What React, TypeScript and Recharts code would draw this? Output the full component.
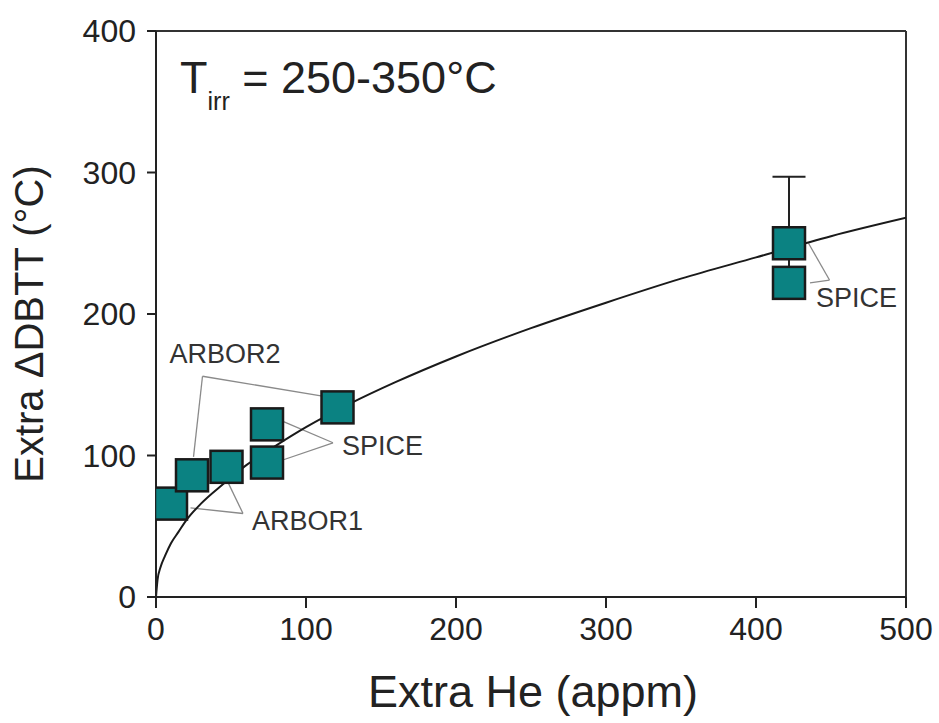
import { ComposedChart, XAxis, YAxis, Line, Scatter, ErrorBar, ReferenceLine, ReferenceDot, Label } from "recharts";

// measured points (Extra He in appm, Extra ΔDBTT in °C)
const heValues = [10, 24, 47, 74, 74, 121, 422, 422];
const dbttValues = [66, 86, 92, 95, 122, 134, 250, 222];

// error bar on the upper SPICE point at 422 appm
const errHe = [422];
const errDbtt = [250];
const errLow = [17];
const errHigh = [47];

// fitted trend
const fitHe = [0, 1, 3, 6, 10, 15, 20, 30, 45, 60, 80, 100, 130, 160, 200, 250, 300, 350, 400, 450, 500];
const fitDbtt = [0, 12, 21, 29, 38, 46, 54, 66, 80, 93, 107, 120, 137, 152, 170, 190, 208, 225, 240, 255, 268];

const xTicks = [0, 100, 200, 300, 400, 500];
const yTicks = [0, 100, 200, 300, 400];

// annotations
const labelNames = ["ARBOR2", "SPICE", "ARBOR1", "SPICE"];
const labelHe = [46, 151, 101, 467];
const labelDbtt = [172, 107, 54, 212];

const leaderFromHe = [31, 31, 118, 118, 58, 58, 449, 449];
const leaderFromDbtt = [156, 156, 109, 109, 59, 59, 224, 224];
const leaderToHe = [25, 111, 85, 85, 48, 23, 435, 436];
const leaderToDbtt = [99, 142, 124, 97, 81, 63, 250, 222];

const points = heValues.map((x, i) => ({ x, y: dbttValues[i] }));
const errPoints = errHe.map((x, i) => ({ x, y: errDbtt[i], err: [errLow[i], errHigh[i]] }));
const fitData = fitHe.map((x, i) => ({ x, y: fitDbtt[i] }));

const FONT = "'Liberation Sans', Arial, sans-serif";
const TEAL = "#0b8282";

const Square = (props: any) => {
    const { cx, cy } = props;
    if (cx == null || cy == null) return null;
    const s = 32;
    return <rect x={cx - s / 2} y={cy - s / 2} width={s} height={s} fill={TEAL} stroke="#1a1a1a" strokeWidth={2.5} />;
};

const Hidden = () => <g />;

const XTitle = (props: any) => {
    const vb = props.viewBox;
    return (
        <text x={vb.x + vb.width / 2 + 2} y={vb.y + 110} textAnchor="middle" fontSize={45} fontFamily={FONT} fill="#222">
            Extra He (appm)
        </text>
    );
};

const YTitle = (props: any) => {
    const vb = props.viewBox;
    const x = 43;
    const y = vb.y + vb.height / 2 + 10;
    return (
        <text x={x} y={y} transform={`rotate(-90, ${x}, ${y})`} textAnchor="middle" fontSize={40} fontFamily={FONT} fill="#222">
            Extra ΔDBTT (°C)
        </text>
    );
};

const TirrLabel = (props: any) => {
    const vb = props.viewBox;
    return (
        <text x={vb.x} y={vb.y} fontSize={45} fontFamily={FONT} fill="#222">
            <tspan>T</tspan>
            <tspan fontSize={25} dy={17}>irr</tspan>
            <tspan dy={-17}> = 250-350°C</tspan>
        </text>
    );
};

export default function App() {
    return (
        <div style={{ position: "absolute", left: 0, top: 0, background: "#fff" }}>
            <ComposedChart width={939} height={723} margin={{ top: 31, right: 33, bottom: 0, left: 0 }}>
                <XAxis
                    dataKey="x"
                    type="number"
                    domain={[0, 500]}
                    ticks={xTicks}
                    height={126}
                    stroke="#222"
                    strokeWidth={2}
                    tickSize={11}
                    tickMargin={9}
                    tick={{ fontSize: 32, fontFamily: FONT, fill: "#222" }}
                    allowDataOverflow
                >
                    <Label content={XTitle} />
                </XAxis>
                <YAxis
                    dataKey="y"
                    type="number"
                    domain={[0, 400]}
                    ticks={yTicks}
                    width={156}
                    stroke="#222"
                    strokeWidth={2}
                    tickSize={9}
                    tickMargin={11}
                    tick={{ fontSize: 32, fontFamily: FONT, fill: "#222" }}
                    allowDataOverflow
                >
                    <Label content={YTitle} />
                </YAxis>

                <ReferenceLine y={400} stroke="#333" strokeWidth={2} />
                <ReferenceLine x={500} stroke="#333" strokeWidth={2} />

                {leaderFromHe.map((fx, i) => (
                    <ReferenceLine
                        key={`ld-${i}`}
                        segment={[{ x: fx, y: leaderFromDbtt[i] }, { x: leaderToHe[i], y: leaderToDbtt[i] }]}
                        stroke="#8a8a8a"
                        strokeWidth={1.3}
                    />
                ))}

                <Line data={fitData} dataKey="y" type="monotone" stroke="#1a1a1a" strokeWidth={2} dot={false} isAnimationActive={false} />

                <Scatter data={errPoints} dataKey="y" shape={Hidden} isAnimationActive={false}>
                    <ErrorBar dataKey="err" direction="y" width={16.5} stroke="#222" strokeWidth={2} isAnimationActive={false} />
                </Scatter>
                <Scatter data={points} dataKey="y" shape={Square} isAnimationActive={false} />

                {labelNames.map((name, i) => (
                    <ReferenceDot
                        key={`lb-${i}`}
                        x={labelHe[i]}
                        y={labelDbtt[i]}
                        r={0}
                        fill="none"
                        stroke="none"
                        label={{ value: name, position: "center", fontSize: 27, fontFamily: FONT, fill: "#333" }}
                    />
                ))}
                <ReferenceDot x={16} y={356} r={0} fill="none" stroke="none" label={<TirrLabel />} />
            </ComposedChart>
        </div>
    );
}
